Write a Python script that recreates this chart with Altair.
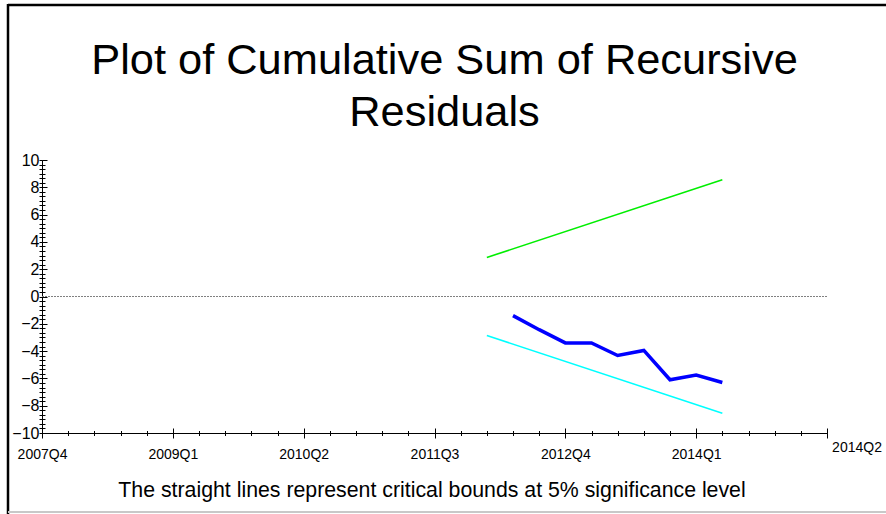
import altair as alt
import pandas as pd

# Quarterly periods; position 0 on the horizontal scale is 2007Q4.
def quarter_index(period):
    year, quarter = int(period[:4]), int(period[-1])
    return (year - 2007) * 4 + quarter - 4

# 5% critical bounds (straight lines between the first and last period)
bound_periods = ["2012Q1", "2014Q2"]
upper_bound = [2.86, 8.55]
lower_bound = [-2.86, -8.55]

# Cumulative sum of recursive residuals
cusum_periods = ["2012Q2", "2012Q3", "2012Q4", "2013Q1", "2013Q2",
                 "2013Q3", "2013Q4", "2014Q1", "2014Q2"]
cusum_values = [-1.40, -2.43, -3.40, -3.40, -4.32, -3.95, -6.10, -5.76, -6.30]

# Axis text
tick_labels = ["2007Q4", "2009Q1", "2010Q2", "2011Q3", "2012Q4", "2014Q1"]
end_label = "2014Q2"
y_major = [-10, -8, -6, -4, -2, 0, 2, 4, 6, 8, 10]
title_lines = ["Plot of Cumulative Sum of Recursive", "Residuals"]
footnote = "The straight lines represent critical bounds at 5% significance level"

LABEL_STEP = 5          # quarters between labelled ticks
AXIS_QUARTERS = 30      # span of the horizontal axis in quarters
W, H = 785, 273         # plot area
PAD_L, PAD_T, PAD_R, PAD_B = 42, 160, 59, 81

x_major = [i * LABEL_STEP for i in range(AXIS_QUARTERS // LABEL_STEP + 1)]
x_minor = list(range(AXIS_QUARTERS + 1))
y_minor = [round(-10 + i / 3, 4) for i in range(61)]

bounds_df = pd.DataFrame({
    "q": [quarter_index(p) for p in bound_periods],
    "upper": upper_bound,
    "lower": lower_bound,
})
cusum_df = pd.DataFrame({
    "q": [quarter_index(p) for p in cusum_periods],
    "cusum": cusum_values,
})
zero_df = pd.DataFrame({"x0": [0], "x1": [AXIS_QUARTERS], "y": [0]})
end_df = pd.DataFrame({"q": [AXIS_QUARTERS], "y": [-10], "label": [end_label]})

xs = alt.Scale(domain=[0, AXIS_QUARTERS], nice=False, zero=False)
ys = alt.Scale(domain=[-10, 10], nice=False, zero=False)

label_array = "[" + ",".join(f"'{t}'" for t in tick_labels + [""]) + "]"
LABEL_FONT = "Liberation Sans, Arial"

common = dict(grid=False, title=None, tickColor="black", domainColor="black")

x_axis_labels = alt.Axis(orient="bottom", values=x_major,
                         labelExpr=f"{label_array}[round(datum.value / {LABEL_STEP})]",
                         tickSize=5, labelFont=LABEL_FONT, labelFontSize=14,
                         labelColor="black", labelPadding=9, labelAngle=0,
                         labelFlush=False, labelOverlap=False,
                         domainWidth=1, **common)
x_axis_minor = alt.Axis(orient="bottom", values=x_minor, labels=False,
                        tickSize=2.5, domain=False, **common)
x_axis_major_up = alt.Axis(orient="top", offset=-H, values=x_major, labels=False,
                           tickSize=5, domain=False, **common)
x_axis_minor_up = alt.Axis(orient="top", offset=-H, values=x_minor, labels=False,
                           tickSize=2.5, domain=False, **common)

y_axis_labels = alt.Axis(orient="left", values=y_major, ticks=False,
                         labelFont=LABEL_FONT, labelFontSize=16,
                         labelColor="black", labelPadding=3, labelFlush=False,
                         labelOverlap=False, domainWidth=1, **common)
y_axis_minor = alt.Axis(orient="left", values=y_minor, labels=False,
                        tickSize=3, domain=False, **common)
y_axis_major_in = alt.Axis(orient="right", offset=-W, values=y_major, labels=False,
                           tickSize=5, domain=False, **common)
y_axis_minor_in = alt.Axis(orient="right", offset=-W, values=y_minor, labels=False,
                           tickSize=3, domain=False, **common)

upper_line = alt.Chart(bounds_df).mark_line(color="#00ee00", strokeWidth=1.6).encode(
    x=alt.X("q:Q", scale=xs, axis=x_axis_labels),
    y=alt.Y("upper:Q", scale=ys, axis=y_axis_labels),
)
lower_line = alt.Chart(bounds_df).mark_line(color="#00ffff", strokeWidth=1.6).encode(
    x=alt.X("q:Q", scale=xs, axis=x_axis_minor),
    y=alt.Y("lower:Q", scale=ys, axis=y_axis_minor),
)
zero_line = alt.Chart(zero_df).mark_rule(color="#808080", strokeDash=[2, 1],
                                         strokeWidth=1).encode(
    x=alt.X("x0:Q", scale=xs, axis=x_axis_minor_up),
    x2="x1:Q",
    y=alt.Y("y:Q", scale=ys, axis=y_axis_minor_in),
)
cusum_line = alt.Chart(cusum_df).mark_line(color="#0000ff", strokeWidth=3.5,
                                           strokeJoin="miter").encode(
    x=alt.X("q:Q", scale=xs, axis=x_axis_major_up),
    y=alt.Y("cusum:Q", scale=ys, axis=y_axis_major_in),
)
end_text = alt.Chart(end_df).mark_text(font=LABEL_FONT, fontSize=14, color="black",
                                       dx=30, dy=15, align="center",
                                       baseline="middle").encode(
    x=alt.X("q:Q", scale=xs, axis=None),
    y=alt.Y("y:Q", scale=ys, axis=None),
    text="label:N",
)

one_row = alt.Data(values=[{}])
title_text = alt.Chart(one_row).mark_text(
    text=title_lines, font=LABEL_FONT, fontSize=43.4, lineHeight=52,
    align="center", baseline="alphabetic", color="black",
).encode(x=alt.value(402.5), y=alt.value(-86))
foot_text = alt.Chart(one_row).mark_text(
    text=footnote, font=LABEL_FONT, fontSize=21.3, align="center",
    baseline="alphabetic", color="black",
).encode(x=alt.value(390), y=alt.value(337))

# Outer frame: heavy black top and left edges, light grey bottom edge
frame_top = alt.Chart(one_row).mark_rule(color="black", strokeWidth=2.5).encode(
    x=alt.value(-PAD_L + 8), x2=alt.value(W + PAD_R), y=alt.value(-PAD_T + 5))
frame_left = alt.Chart(one_row).mark_rule(color="black", strokeWidth=2.5).encode(
    x=alt.value(-PAD_L + 8), y=alt.value(-PAD_T + 4), y2=alt.value(H + PAD_B))
frame_bottom = alt.Chart(one_row).mark_rule(color="#c8c8c8", strokeWidth=2).encode(
    x=alt.value(-PAD_L + 8), x2=alt.value(W + PAD_R), y=alt.value(H + PAD_B - 2))

chart = alt.layer(
    zero_line, upper_line, lower_line, cusum_line, end_text,
    title_text, foot_text, frame_top, frame_left, frame_bottom,
).resolve_axis(x="independent", y="independent").properties(
    width=W, height=H,
    padding={"left": PAD_L, "top": PAD_T, "right": PAD_R, "bottom": PAD_B},
    autosize=alt.AutoSizeParams(type="none"),
    background="white",
).configure_view(stroke=None)

chart.save("out.html", embed_options={"renderer": "svg", "actions": False})
